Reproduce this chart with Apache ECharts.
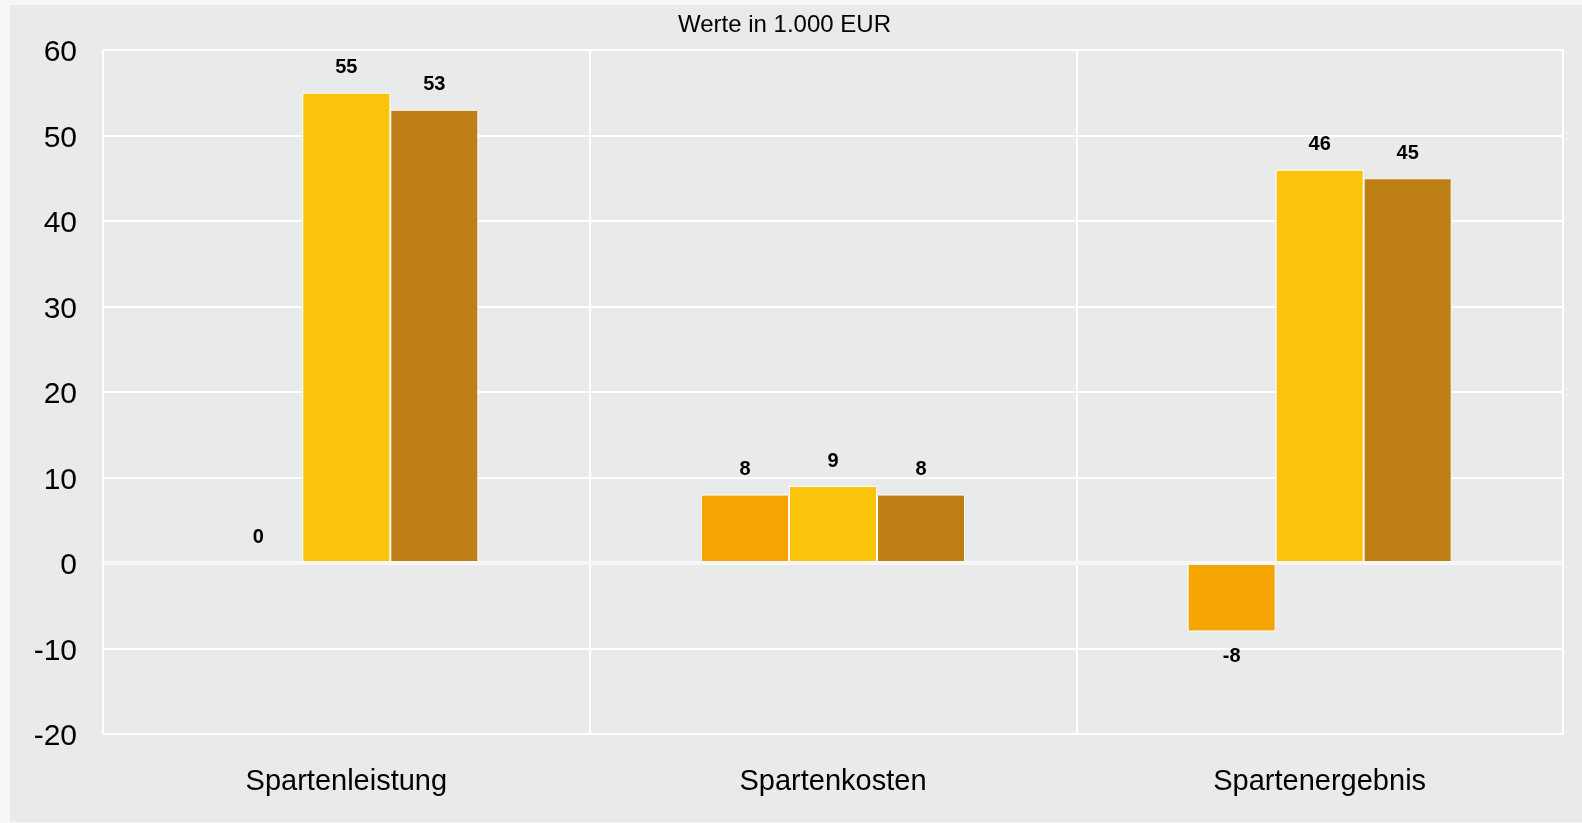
<!DOCTYPE html>
<html>
<head>
<meta charset="utf-8">
<script src="https://cdn.jsdelivr.net/npm/echarts@6/dist/echarts.min.js"></script>
<style>
  html, body { margin: 0; padding: 0; background: #f7f7f7; }
  #chart { position: absolute; left: 10px; top: 5px; width: 1572px; height: 817px; background: #e9ebea; }
</style>
</head>
<body>
<div id="chart"></div>
<script>
const categories = ['Spartenleistung', 'Spartenkosten', 'Spartenergebnis'];
const seriesA = [0, 8, -8];
const seriesB = [55, 9, 46];
const seriesC = [53, 8, 45];
const yTicks = { min: -20, max: 60, interval: 10 };

const FONT = '"Liberation Sans", Arial, sans-serif';
const COLORS = ['#f4a502', '#fac30c', '#be8016'];

const chart = echarts.init(document.getElementById('chart'));

// negative values get their label underneath the bar
const toItems = (values) => values.map(v => ({
  value: v,
  label: { position: v < 0 ? 'bottom' : 'top' }
}));

const makeSeries = (name, values, color, withZeroLine) => {
  const s = {
    name: name,
    type: 'bar',
    barWidth: 88,
    barGap: '0%',
    data: toItems(values),
    itemStyle: { color: color, borderColor: 'rgba(255,255,255,0.9)', borderWidth: 1 },
    label: {
      show: true,
      distance: 15,
      color: '#000',
      fontFamily: FONT,
      fontWeight: 'bold',
      fontSize: 20
    }
  };
  if (withZeroLine) {
    s.markLine = {
      silent: true,
      symbol: 'none',
      label: { show: false },
      lineStyle: { color: '#f7f7f7', width: 4, type: 'solid' },
      data: [{ yAxis: 0 }]
    };
  }
  return s;
};

const option = {
  animation: false,
  title: {
    text: 'Werte in 1.000 EUR',
    left: 668,
    top: 8,
    padding: 0,
    textStyle: { color: '#000', fontFamily: FONT, fontWeight: 'normal', fontSize: 24, lineHeight: 24 }
  },
  grid: {
    left: 93,
    right: 19,
    top: 45,
    bottom: 88,
    show: true,
    borderColor: '#ffffff',
    borderWidth: 2,
    backgroundColor: 'transparent'
  },
  xAxis: {
    type: 'category',
    data: categories,
    axisLine: { show: false, onZero: false },
    axisTick: { show: false },
    axisLabel: { color: '#000', fontFamily: FONT, fontSize: 29, margin: 33 },
    splitLine: { show: true, lineStyle: { color: '#ffffff', width: 2 } }
  },
  yAxis: {
    type: 'value',
    min: yTicks.min,
    max: yTicks.max,
    interval: yTicks.interval,
    axisLine: { show: false },
    axisTick: { show: false },
    axisLabel: {
      margin: 26,
      formatter: '{t|{value}}',
      rich: {
        t: { color: '#000', fontFamily: FONT, fontSize: 30, padding: [6, 0, 0, 0] }
      }
    },
    splitLine: { show: true, lineStyle: { color: '#ffffff', width: 2 } }
  },
  series: [
    makeSeries('Reihe 1', seriesA, COLORS[0], true),
    makeSeries('Reihe 2', seriesB, COLORS[1], false),
    makeSeries('Reihe 3', seriesC, COLORS[2], false)
  ]
};

chart.setOption(option);
</script>
</body>
</html>
